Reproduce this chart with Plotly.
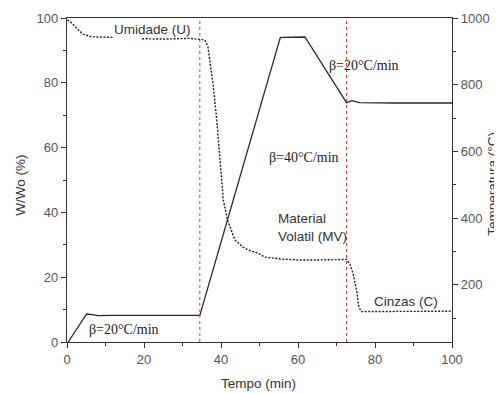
import plotly.graph_objects as go

# ---- data ----
mass_time = [0.1, 1.2, 2.5, 4.2, 6.4, 9, 12, None, 19.5, 25, 31.9, 34.5, 35.8, 36.6, 38.0, 38.9,
             39.7, 40.6, 41.7, 43.6, 45.7, 47, 49.4, 51.4, 55.8, 60.5, 64.4, 68, 72.6, 73.5,
             74.3, 75.2, 75.8, 76.5, 80, 90, 100]
mass_pct = [99.4, 98.5, 96.8, 95, 94.2, 94, 94, None, 93.6, 93.5, 93.7, 93.4, 93.2, 91.2, 78.8, 68.5,
            56.2, 43.8, 37.6, 31.5, 29.3, 28.4, 27.5, 26.2, 25.6, 25.3, 25.3, 25.4, 25.5, 24,
            21.2, 16, 10.8, 9.4, 9.4, 9.4, 9.5]

temp_time = [0.3, 5.1, 6.5, 8, 12, 20, 34.5, 55.4, 56, 61.8, 72.6, 74, 76, 85, 100]
temp_c = [28, 112, 110, 107, 108, 108, 108, 941, 942, 943, 746, 752, 746, 745, 745]

event_times = [34.5, 72.6]

x_ticks = [0, 20, 40, 60, 80, 100]
y_ticks = [0, 20, 40, 60, 80, 100]
y2_ticks = [200, 400, 600, 800, 1000]

TICKFONT = dict(family="Liberation Sans, Arial, sans-serif", size=13, color="#555")
LABELFONT = dict(family="Liberation Sans, Arial, sans-serif", size=13.5, color="#333")
BETAFONT = dict(family="Liberation Serif, Times New Roman, serif", size=14, color="#222")
AXCOL = "#333"

fig = go.Figure()
fig.add_trace(go.Scatter(x=temp_time, y=temp_c, mode="lines", yaxis="y2",
                         line=dict(color="#2a2a2a", width=1.3), showlegend=False))
fig.add_trace(go.Scatter(x=mass_time, y=mass_pct, mode="lines",
                         line=dict(color="#222", width=1.4, dash="2px,1.5px"),
                         showlegend=False, connectgaps=False))

for t in event_times:
    fig.add_shape(type="line", xref="x", yref="paper", x0=t, x1=t, y0=0, y1=1,
                  line=dict(color="#e8383d", width=1, dash="dot"))

ann = [
    dict(text="Umidade (U)", x=22.3, y=96.4, font=LABELFONT),
    dict(text="β=20°C/min", x=77.2, y=85.2, font=BETAFONT),
    dict(text="β=40°C/min", x=61.6, y=56.8, font=BETAFONT),
    dict(text="Material<br>Volatil (MV)", x=54.4, y=35.2, font=LABELFONT, xanchor="left", align="left"),
    dict(text="Cinzas (C)", x=88.0, y=12.6, font=LABELFONT),
    dict(text="β=20°C/min", x=14.8, y=3.8, font=BETAFONT),
]
for a in ann:
    a.setdefault("xanchor", "center")
    fig.add_annotation(xref="x", yref="y", showarrow=False, yanchor="middle", **a)

# axis titles
fig.add_annotation(text="W/Wo (%)", xref="paper", yref="paper", x=-0.12, y=0.485,
                   textangle=-90, showarrow=False, font=LABELFONT, xanchor="center", yanchor="middle")
fig.add_annotation(text="Tempo (min)", xref="paper", yref="paper", x=0.497, y=-0.127,
                   showarrow=False, font=LABELFONT, xanchor="center", yanchor="middle")
fig.add_annotation(text="Temperatura (°C)", xref="paper", yref="paper", x=1.105, y=0.49,
                   textangle=-90, showarrow=False, font=LABELFONT, xanchor="center", yanchor="middle")

# page body has an 8px margin: the figure is sized/margined so the plot area sits where the reference has it
fig.update_layout(
    width=494, height=386,
    margin=dict(l=59, r=50, t=10, b=52),
    paper_bgcolor="white", plot_bgcolor="white",
    xaxis=dict(range=[0, 100], tickvals=x_ticks, ticks="outside", ticklen=5, tickwidth=1,
               tickcolor=AXCOL, showline=True, linecolor=AXCOL, linewidth=1.2, mirror=True,
               showgrid=False, zeroline=False, tickfont=TICKFONT, automargin=False,
               minor=dict(dtick=10, ticks="outside", ticklen=3, tickcolor=AXCOL, showgrid=False)),
    yaxis=dict(range=[0, 100], tickvals=y_ticks, ticks="outside", ticklen=5, tickwidth=1,
               tickcolor=AXCOL, showline=True, linecolor=AXCOL, linewidth=1.2,
               showgrid=False, zeroline=False, tickfont=TICKFONT, automargin=False,
               minor=dict(dtick=10, ticks="outside", ticklen=3, tickcolor=AXCOL, showgrid=False)),
    yaxis2=dict(range=[28, 1000], tickvals=y2_ticks, overlaying="y", side="right",
                ticks="outside", ticklen=5, tickwidth=1, tickcolor=AXCOL,
                showline=True, linecolor=AXCOL, linewidth=1.2, automargin=False,
                showgrid=False, zeroline=False, tickfont=TICKFONT,
                minor=dict(tick0=0, dtick=100, ticks="outside", ticklen=3, tickcolor=AXCOL, showgrid=False)),
)

fig.write_html("out.html")
